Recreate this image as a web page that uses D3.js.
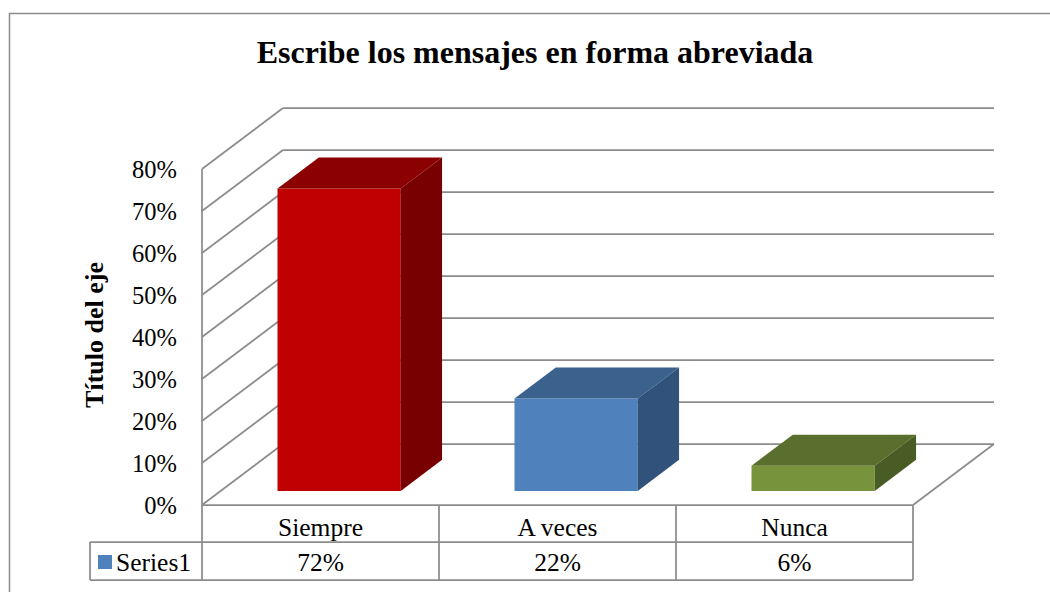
<!DOCTYPE html>
<html>
<head>
<meta charset="utf-8">
<script src="https://cdn.jsdelivr.net/npm/d3@7"></script>
<style>
  body { margin: 0; background: #fff; }
  text { font-family: "Liberation Serif", "Times New Roman", serif; fill: #000; }
</style>
</head>
<body>
<div class="canvas"></div>
<script>
// data
const categories = ['Siempre', 'A veces', 'Nunca'];
const values = [0.72, 0.22, 0.06];
const tickValues = [0, 0.1, 0.2, 0.3, 0.4, 0.5, 0.6, 0.7, 0.8];
const seriesName = 'Series1';

const faceColors = [
  { front: '#c00000', top: '#8b0000', side: '#780000' },
  { front: '#4f81bd', top: '#3b618d', side: '#30527b' },
  { front: '#77933c', top: '#5a6f2e', side: '#4a5c26' }
];

const dims = { width: 1050, height: 592 };
const depth = { dx: 81, dy: 61 };
const grid = '#8c8c8c';

const svg = d3.select('.canvas')
  .append('svg')
  .attr('width', dims.width)
  .attr('height', dims.height);

// outer chart border
svg.append('rect')
  .attr('x', 9.5).attr('y', 13.5)
  .attr('width', 1060).attr('height', 600)
  .attr('fill', 'none')
  .attr('stroke', grid)
  .attr('stroke-width', 1.5);

// title
svg.append('text')
  .attr('x', 535).attr('y', 63)
  .attr('text-anchor', 'middle')
  .attr('font-size', 32)
  .attr('font-weight', 'bold')
  .text('Escribe los mensajes en forma abreviada');

// scales (front plane)
const x = d3.scaleBand()
  .domain(categories)
  .range([202, 913]);

const y = d3.scaleLinear()
  .domain([0, 0.8])
  .range([505, 169]);

// project (x, value, depth 0..1) to screen
const proj = (px, v, d) => [px + d * depth.dx, y(v) - d * depth.dy];
const poly = pts => 'M' + pts.map(p => p.join(',')).join('L') + 'Z';

const walls = svg.append('g')
  .attr('fill', 'none')
  .attr('stroke', grid)
  .attr('stroke-width', 1.75);

const x0 = x.range()[0];
const x1 = x.range()[1];

// back wall gridlines
walls.selectAll('line.back')
  .data(tickValues)
  .enter().append('line')
    .attr('class', 'back')
    .attr('x1', d => proj(x0, d, 1)[0])
    .attr('y1', d => proj(x0, d, 1)[1])
    .attr('x2', d => proj(x1, d, 1)[0])
    .attr('y2', d => proj(x1, d, 1)[1]);

// side wall gridlines
walls.selectAll('line.side')
  .data(tickValues)
  .enter().append('line')
    .attr('class', 'side')
    .attr('x1', d => proj(x0, d, 0)[0])
    .attr('y1', d => proj(x0, d, 0)[1])
    .attr('x2', d => proj(x0, d, 1)[0])
    .attr('y2', d => proj(x0, d, 1)[1]);

// front vertical axis line
walls.append('line')
  .attr('x1', x0).attr('y1', y(0.8))
  .attr('x2', x0).attr('y2', y(0));

// floor right edge
walls.append('line')
  .attr('x1', proj(x1, 0, 0)[0]).attr('y1', proj(x1, 0, 0)[1])
  .attr('x2', proj(x1, 0, 1)[0]).attr('y2', proj(x1, 0, 1)[1]);

// y tick labels
svg.append('g')
  .selectAll('text')
  .data(tickValues)
  .enter().append('text')
    .attr('x', 177)
    .attr('y', d => y(d))
    .attr('dy', '0.36em')
    .attr('text-anchor', 'end')
    .attr('font-size', 24.5)
    .text(d3.format('.0%'));

// axis title
svg.append('text')
  .attr('transform', `translate(103, 335) rotate(-90)`)
  .attr('text-anchor', 'middle')
  .attr('font-size', 26)
  .attr('font-weight', 'bold')
  .text('Título del eje');

// bars
const barFrac = 0.52;
const dFront = 0.23;
const dBack = 0.74;

const bars = svg.append('g')
  .selectAll('g')
  .data(categories.map((c, i) => ({ name: c, value: values[i], col: faceColors[i] })))
  .enter().append('g');

bars.each(function(d) {
  const g = d3.select(this);
  const bw = x.bandwidth() * barFrac;
  const l = x(d.name) + (x.bandwidth() - bw) / 2;
  const r = l + bw;
  // front face
  g.append('path')
    .attr('fill', d.col.front)
    .attr('d', poly([proj(l, 0, dFront), proj(r, 0, dFront), proj(r, d.value, dFront), proj(l, d.value, dFront)]));
  // top face
  g.append('path')
    .attr('fill', d.col.top)
    .attr('d', poly([proj(l, d.value, dFront), proj(r, d.value, dFront), proj(r, d.value, dBack), proj(l, d.value, dBack)]));
  // right side face
  g.append('path')
    .attr('fill', d.col.side)
    .attr('d', poly([proj(r, 0, dFront), proj(r, 0, dBack), proj(r, d.value, dBack), proj(r, d.value, dFront)]));
});

// data table
const rowTop = 505, rowMid = 542, rowBot = 580, tableLeft = 90;
const table = svg.append('g')
  .attr('stroke', grid)
  .attr('stroke-width', 1.75)
  .attr('fill', 'none');

table.append('line').attr('x1', x0).attr('y1', rowTop).attr('x2', x1).attr('y2', rowTop);
table.append('line').attr('x1', tableLeft).attr('y1', rowMid).attr('x2', x1).attr('y2', rowMid);
table.append('line').attr('x1', tableLeft).attr('y1', rowBot).attr('x2', x1).attr('y2', rowBot);
table.append('line').attr('x1', tableLeft).attr('y1', rowMid).attr('x2', tableLeft).attr('y2', rowBot);

const colEdges = categories.map(c => x(c)).concat([x1]);
table.selectAll('line.col')
  .data(colEdges)
  .enter().append('line')
    .attr('class', 'col')
    .attr('x1', d => d).attr('y1', rowTop)
    .attr('x2', d => d).attr('y2', rowBot);

svg.append('g')
  .selectAll('text')
  .data(categories)
  .enter().append('text')
    .attr('x', d => x(d) + x.bandwidth() / 2)
    .attr('y', 536)
    .attr('text-anchor', 'middle')
    .attr('font-size', 25.5)
    .text(d => d);

svg.append('g')
  .selectAll('text')
  .data(values)
  .enter().append('text')
    .attr('x', (d, i) => x(categories[i]) + x.bandwidth() / 2)
    .attr('y', 571)
    .attr('text-anchor', 'middle')
    .attr('font-size', 25.5)
    .text(d3.format('.0%'));

// legend key in table
svg.append('rect')
  .attr('x', 98).attr('y', 555)
  .attr('width', 14).attr('height', 14)
  .attr('fill', faceColors[1].front);

svg.append('text')
  .attr('x', 116).attr('y', 571)
  .attr('font-size', 25.5)
  .text(seriesName);
</script>
</body>
</html>
